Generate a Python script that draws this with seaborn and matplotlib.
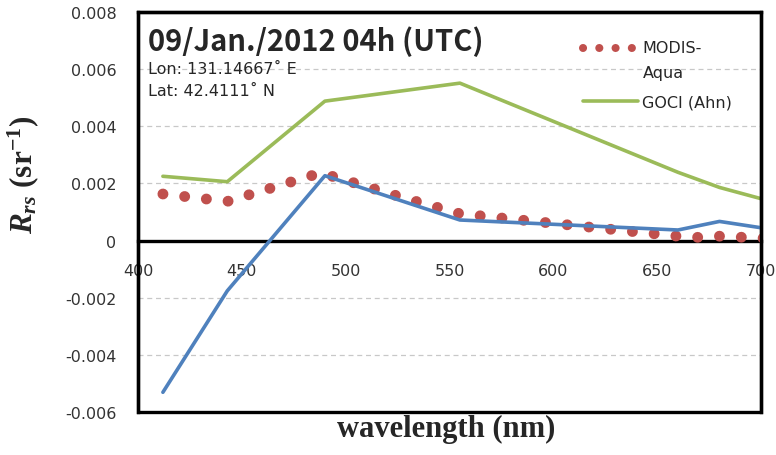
import numpy as np
import matplotlib
matplotlib.use('Agg')
import matplotlib.pyplot as plt
from matplotlib.lines import Line2D
from matplotlib.patches import Rectangle
from matplotlib.ticker import MultipleLocator
import seaborn as sns

# MODIS-Aqua Rrs (sr^-1), band centres
modis_wl = [412, 443, 488, 531, 555, 667, 678, 748]
modis_rrs = [0.00163, 0.00137, 0.00237, 0.00143, 0.00094, 0.00010, 0.00016, -0.00008]

# GOCI bands
goci_wl = [412, 443, 490, 555, 660, 680, 745]
goci_ahn_rrs = [0.00225, 0.00206, 0.00488, 0.00551, 0.00239, 0.00186, 0.00058]
# blue series (no legend entry in the original)
goci_std_rrs = [-0.00531, -0.00176, 0.00227, 0.00072, 0.00037, 0.00067, -0.00005]

xticks = [400, 450, 500, 550, 600, 650, 700]
xtick_labels = ['400', '450', '500', '550', '600', '650', '700']
yticks = [-0.006, -0.004, -0.002, 0, 0.002, 0.004, 0.006, 0.008]
ytick_labels = ['-0.006', '-0.004', '-0.002', '0', '0.002', '0.004', '0.006', '0.008']

title = '09/Jan./2012 04h (UTC)'
lon_txt = 'Lon: 131.14667˚ E'
lat_txt = 'Lat: 42.4111˚ N'

red = '#C0504D'
green = '#9BBB59'
blue = '#4F81BD'

sns.set_style('white')
plt.rcParams['font.family'] = ['Noto Sans CJK KR', 'DejaVu Sans']
plt.rcParams['mathtext.fontset'] = 'custom'
plt.rcParams['mathtext.rm'] = 'Liberation Serif:bold'
plt.rcParams['mathtext.it'] = 'Liberation Serif:italic:bold'
plt.rcParams['mathtext.bf'] = 'Liberation Serif:bold'

fig = plt.figure(figsize=(7.76, 4.56), dpi=100)
ax = fig.add_axes([0.1778, 0.0943, 0.8029, 0.8772])

# round-dot line like the Excel original
dot_style = (0, (0.01, 2.008))
sns.lineplot(x=modis_wl, y=modis_rrs, ax=ax, color=red, lw=7.8,
             linestyle=dot_style, dash_capstyle='round', sort=False, zorder=3)
sns.lineplot(x=goci_wl, y=goci_ahn_rrs, ax=ax, color=green, lw=2.6, sort=False, zorder=2)
sns.lineplot(x=goci_wl, y=goci_std_rrs, ax=ax, color=blue, lw=2.6, sort=False, zorder=4)

ax.set_xlim(400, 700)
ax.set_ylim(-0.006, 0.008)
ax.set_xticks(xticks)
ax.set_xticklabels(xtick_labels)
ax.set_yticks(yticks)
ax.set_yticklabels(ytick_labels)
ax.xaxis.set_minor_locator(MultipleLocator(10))
ax.yaxis.set_minor_locator(MultipleLocator(0.0004))

# x axis sits on zero, frame drawn round the whole plot area
ax.spines['bottom'].set_position(('data', 0))
for s in ['bottom', 'left', 'top', 'right']:
    ax.spines[s].set_linewidth(2.4)
    ax.spines[s].set_color('black')
ax.add_patch(Rectangle((0, 0), 1, 1, transform=ax.transAxes, fill=False,
                       lw=2.4, ec='black', clip_on=False, zorder=5))

ax.tick_params(axis='both', which='major', direction='inout', length=10, width=2.4,
               colors='black', labelsize=11.5, labelcolor='#333333',
               labelfontfamily='DejaVu Sans')
ax.tick_params(axis='both', which='minor', direction='inout', length=6, width=2, colors='black')
ax.tick_params(axis='x', which='major', pad=11)
ax.tick_params(axis='y', which='major', pad=10.5)

ax.yaxis.grid(True, which='major', ls=(0, (4, 3)), color='#c8c8c8', lw=0.9)
ax.xaxis.grid(False)

ax.text(0.016, 0.905, title, transform=ax.transAxes, fontsize=21, fontweight='bold',
        va='baseline', ha='left')
ax.text(0.016, 0.848, lon_txt, transform=ax.transAxes, fontsize=11.5, va='baseline',
        ha='left', family='DejaVu Sans')
ax.text(0.016, 0.793, lat_txt, transform=ax.transAxes, fontsize=11.5, va='baseline',
        ha='left', family='DejaVu Sans')

ax.set_xlabel('wavelength (nm)', fontsize=22, fontfamily='Liberation Serif', fontweight='bold')
ax.xaxis.set_label_coords(0.494, -0.005)
ax.set_ylabel(r'$R_{rs}$ (sr$^{-1}$)', fontsize=22.5, fontfamily='Liberation Serif',
              fontweight='bold')
ax.yaxis.set_label_coords(-0.155, 0.596)

h_modis = Line2D([], [], color=red, lw=5.8, linestyle=(0, (0.01, 2.01)), dash_capstyle='round')
h_goci = Line2D([], [], color=green, lw=2.6)
leg = ax.legend([h_modis, h_goci], ['MODIS-\nAqua', 'GOCI (Ahn)'], loc='upper left',
                bbox_to_anchor=(0.691, 0.965), frameon=False,
                prop={'family': 'DejaVu Sans', 'size': 11.5},
                handlelength=3.45, labelspacing=0.9, handletextpad=0.28)
leg.get_texts()[0].set_linespacing(1.81)
# put the dotted handle next to the first line of its two-line label
hl = leg.legend_handles[0]
hl.set_ydata(np.asarray(hl.get_ydata()) + 9.4)

fig.savefig('out.png', dpi=100, facecolor='white')
